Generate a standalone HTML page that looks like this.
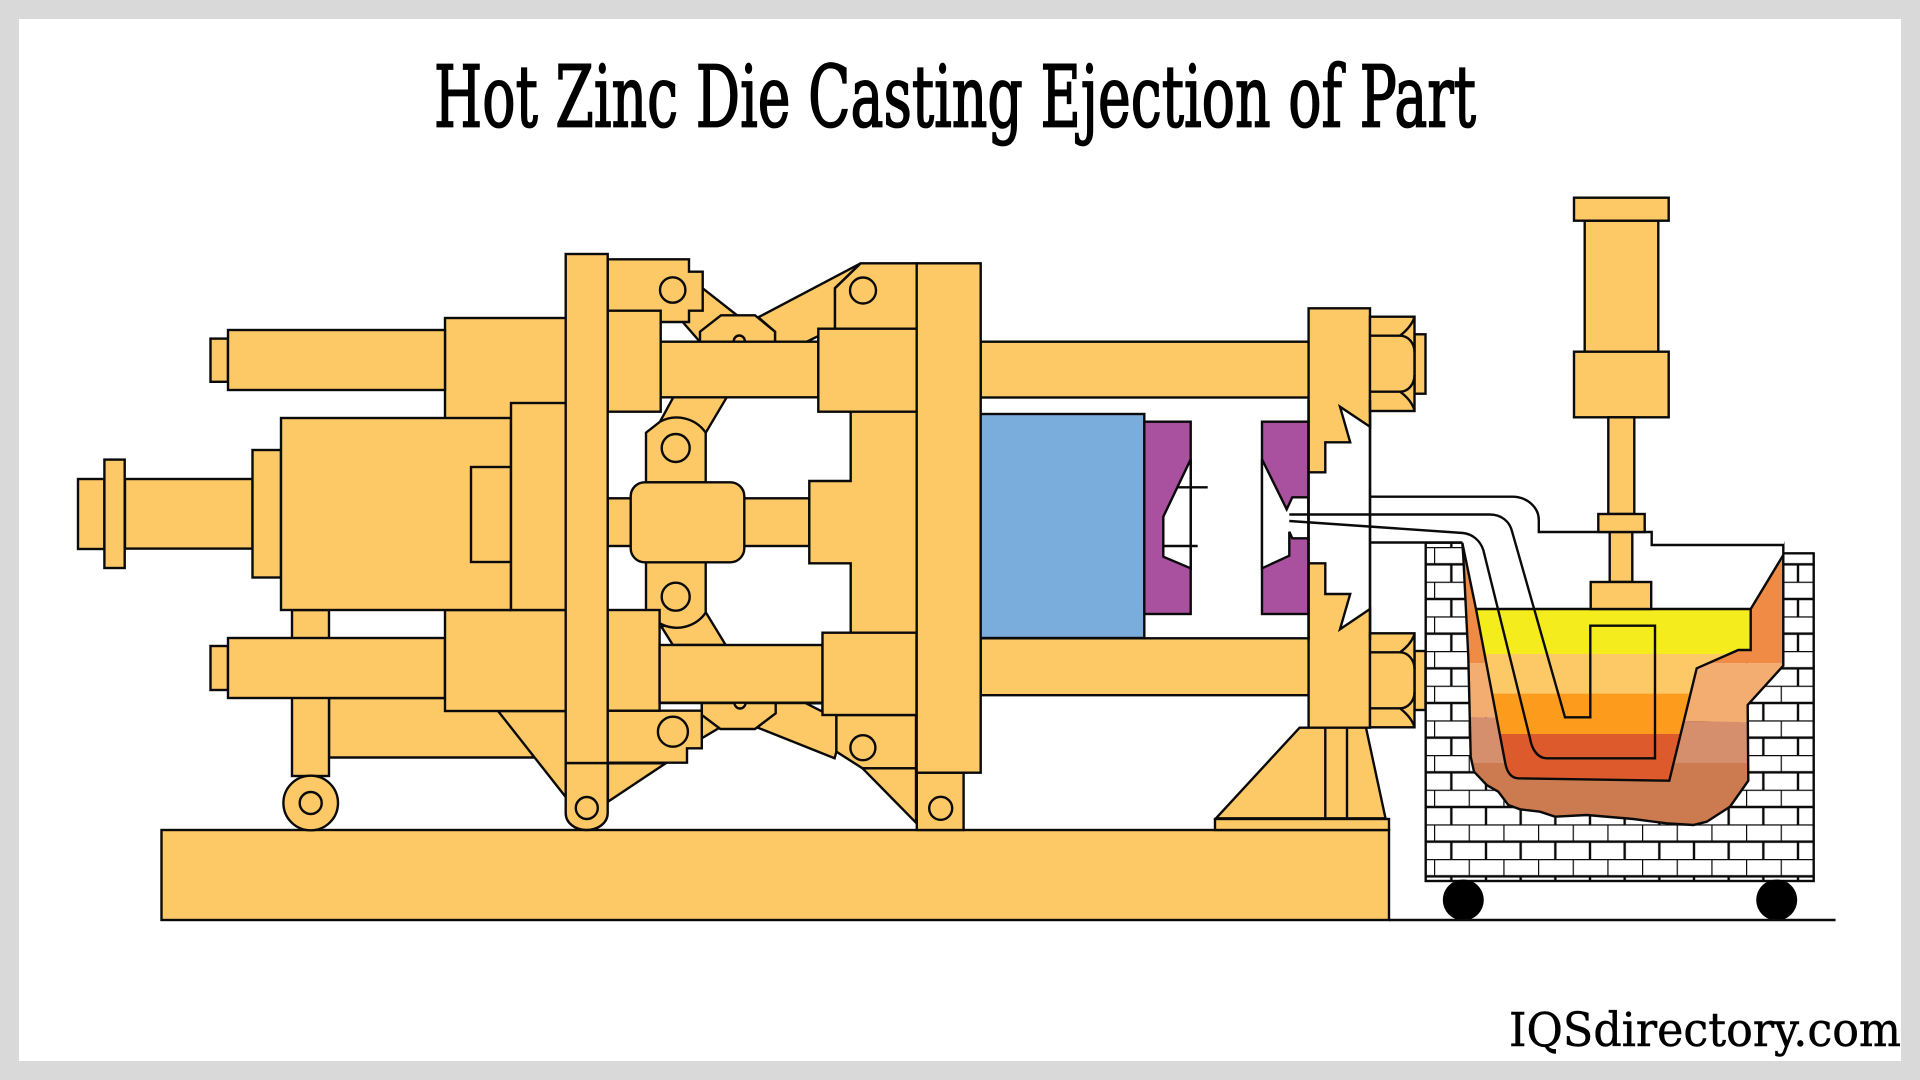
<!DOCTYPE html>
<html lang="en">
<head>
<meta charset="utf-8">
<title>Hot Zinc Die Casting Ejection of Part</title>
<style>
html,body{margin:0;padding:0;background:#d9d9d9;}
svg{display:block;}
</style>
</head>
<body>
<svg xmlns="http://www.w3.org/2000/svg" width="1920" height="1080" viewBox="0 0 1920 1080">
<defs>
<pattern id="br" patternUnits="userSpaceOnUse" x="1434" y="859" width="34.667" height="34.667">
<rect width="34.667" height="34.667" fill="#fff"/>
<path d="M0 0H34.667M0 17.333H34.667M0 0V17.333M17.333 17.333V34.667" stroke="#0a0a0a" stroke-width="2.4" fill="none"/>
</pattern>
<clipPath id="oc"><polygon points="1462.3,542.7 1463.3,556.7 1468.3,656.7 1470.7,756.7 1474,771.7 1486.7,785 1498.3,791.7 1508.3,805 1520,809.3 1540,811.7 1555,816.7 1586.7,815 1633.3,819 1666.7,823.3 1693.3,825 1706.7,821.7 1730,806.7 1748.3,780.7 1747.7,705 1783.3,665.7 1783.3,555"/></clipPath>
<clipPath id="cc"><polygon points="1476,609 1505.3,763.3 1510,774 1518.3,778.3 1669.3,780.7 1696.7,668.3 1738.3,650 1750.7,650 1750.7,609"/></clipPath>
</defs>
<rect x="0" y="0" width="1920" height="1080" fill="#d9d9d9"/>
<rect x="19" y="19" width="1882" height="1042" fill="#fff"/>
<text x="434" y="126.7" font-family="'DejaVu Serif','Liberation Serif',serif" font-size="85" fill="#000" stroke="#000" stroke-width="1.8" textLength="1042" lengthAdjust="spacingAndGlyphs">Hot Zinc Die Casting Ejection of Part</text>
<text x="1509" y="1046" font-family="'DejaVu Serif','Liberation Serif',serif" font-size="47" fill="#000" stroke="#000" stroke-width="0.5" textLength="392" lengthAdjust="spacingAndGlyphs">IQSdirectory.com</text>

<g fill="#fdc966" stroke="#0a0a0a" stroke-width="2.4" stroke-linejoin="miter">
<!-- base -->
<rect x="161.5" y="830" width="1227.5" height="90"/>
<!-- lower rail and carriage -->
<polygon points="329,698 500,698 534,757.5 329,757.5"/>
<polygon points="498,711 565.7,797 565.7,711"/>
<rect x="292" y="610" width="37" height="166"/>
<circle cx="310.7" cy="803" r="27.3"/>
<circle cx="310.7" cy="803" r="11"/>
<!-- left cylinder group -->
<rect x="445" y="318" width="120.7" height="110"/>
<rect x="210.5" y="338.6" width="17.5" height="43.2"/>
<rect x="228" y="330" width="217" height="60"/>
<rect x="210.5" y="646" width="17.5" height="44"/>
<rect x="228" y="638" width="217" height="60"/>
<rect x="445" y="610" width="120.7" height="101"/>
<rect x="78" y="479" width="26.4" height="70"/>
<rect x="125" y="479" width="127.5" height="69.6"/>
<rect x="104.4" y="459.6" width="20.3" height="108.4"/>
<rect x="252.5" y="450" width="28.5" height="127.5"/>
<rect x="281" y="418" width="230" height="192"/>
<rect x="471" y="467" width="40" height="95"/>
<rect x="511" y="403" width="54.7" height="207"/>

<!-- toggle arms upper -->
<polygon points="702.7,288.3 736.7,315 725,341 699.3,341 682.7,322"/>
<polygon points="860.7,263.3 758.3,317.3 775,331.7 775,342 818,342 835,328.7 835,288"/>
<polygon points="806.7,341.7 818.3,336 818.3,341.7" fill="#fff"/>
<polygon points="700,341.7 700,331.7 721,315.3 755,315.3 775,331.7 775,341.7"/>
<circle cx="739.3" cy="341" r="5.5"/>
<!-- toggle arms lower -->
<polygon points="659,703 701.8,703 701.8,738.3 718.6,728.3 720,703"/>
<polygon points="757.9,727.7 834.6,758.3 836.4,751.7 836.4,703 775.7,703"/>
<polygon points="806,703.3 822.5,711.7 822.5,703.3" fill="#fff"/>
<polygon points="701.8,703 775.7,703 775.7,713.3 755,729 720.4,729 701.8,715"/>
<circle cx="740" cy="703" r="5.5"/>
<!-- vertical links -->
<polygon points="673.3,397.3 726.7,397.3 705.7,432.7 660,421.7"/>
<path d="M646,482.3V432.7L660,421.7A35.3,35.3 0 0 1 705.7,432.7V482.3Z"/>
<circle cx="675.7" cy="448" r="14"/>
<polygon points="661.4,626.7 672.9,645 725.7,645 705.4,611.7"/>
<path d="M646,562.3V612L661,624A35.3,35.3 0 0 0 705.7,612.7V562.3Z"/>
<circle cx="675.7" cy="596.7" r="14"/>
<!-- center crosshead -->
<rect x="607.7" y="498.3" width="23" height="47.7"/>
<rect x="744.3" y="498.3" width="65" height="47.7"/>
<rect x="630.7" y="482.3" width="113.6" height="80" rx="14" ry="14"/>
<!-- middle tie parts -->
<path d="M850.7,400V481H809.3V563.3H850.7V640H916.7V400Z"/>
<!-- upper bracket -->
<polygon points="607.7,259.3 689,259.3 689,271.7 702.7,271.7 702.7,310.7 689,310.7 689,322 607.7,322"/>
<circle cx="672.7" cy="290" r="12.7"/>
<rect x="607.7" y="310.7" width="53" height="101"/>
<rect x="660.7" y="341.7" width="157.6" height="55.6"/>
<polygon points="860.7,263.3 916.7,263.3 916.7,330 835,330 835,288.3"/>
<circle cx="863" cy="290.5" r="13"/>
<rect x="818.3" y="328.7" width="98.4" height="83"/>
<!-- lower bracket / foot -->
<polygon points="607.9,801.7 665.7,763.3 607.9,763.3"/>
<polygon points="607.5,710.7 701.8,710.7 701.8,748.3 687,748.3 687,762.7 607.5,762.7"/>
<ellipse cx="672.9" cy="731.7" rx="15" ry="15"/>
<rect x="607.5" y="610" width="52.1" height="100.7"/>
<rect x="659.6" y="645" width="162.9" height="57.7"/>
<polygon points="836.4,715 916,715 916,768.3 862.5,768.3 836.4,751.7"/>
<polygon points="862.5,768.3 916,822.7 916,768.3"/>
<ellipse cx="862.9" cy="747.7" rx="12.5" ry="12.5"/>
<rect x="822.5" y="632.7" width="94" height="82.3"/>
<rect x="916.8" y="772.7" width="46.8" height="57.3"/>
<circle cx="940.7" cy="808.3" r="11.5"/>
<!-- tall moving plate with pin -->
<path d="M565.7,763V813C565.7,823 575,830 586.6,830C598,830 607.7,823 607.7,813V763Z"/>
<circle cx="586.8" cy="808" r="11"/>
<rect x="565.7" y="254" width="42" height="509"/>
<!-- big fixed plate -->
<rect x="980.7" y="341.7" width="328" height="55.8"/>
<rect x="980.7" y="638.3" width="328" height="56.9"/>
<rect x="916.7" y="263.3" width="64" height="509.4"/>
</g>

<!-- die halves -->
<g stroke="#0a0a0a" stroke-width="2.4">
<rect x="980.7" y="414" width="163.6" height="224" fill="#7aacdc"/>
<rect x="1144.3" y="421.7" width="46.4" height="192.3" fill="#a9519e"/>
<polygon points="1190.7,459.3 1163.3,516.7 1163.3,556.7 1190.7,568.3" fill="#fff"/>
<line x1="1176.7" y1="487.3" x2="1207.7" y2="487.3"/>
<line x1="1163.3" y1="546" x2="1197.7" y2="546"/>
<rect x="1262" y="421.7" width="46.4" height="192.3" fill="#a9519e"/>
<polygon points="1262,459.3 1286.7,509.3 1292.3,497.3 1308.3,497.3 1308.3,538.3 1292.3,538.3 1289.3,531.7 1289.3,555.7 1262,568.3" fill="#fff"/>
</g>

<!-- right plate and nuts -->
<g fill="#fdc966" stroke="#0a0a0a" stroke-width="2.4">
<rect x="1308.6" y="400" width="61.4" height="240" fill="#fff"/>
<polygon points="1308.6,308.3 1370,308.3 1370,426.7 1340,406.7 1350.2,442.3 1325.3,442.3 1325.3,472.3 1308.6,472.3"/>
<polygon points="1308.6,563.3 1325.3,563.3 1325.3,594 1350.2,594 1340,629.3 1370,609 1370,727.7 1308.6,727.7"/>
<rect x="1414.5" y="334.3" width="11" height="59.4"/>
<rect x="1370" y="316.7" width="44.5" height="94.3"/>
<path d="M1370,335.7H1400C1408,335.7 1414.5,343 1414.5,352M1370,391.7H1400C1408,391.7 1414.5,384.5 1414.5,375M1400,335.7C1406,331 1412,325 1414.5,317M1400,391.7C1406,396 1412,402 1414.5,410.5" fill="none"/>
<rect x="1414.5" y="651" width="11" height="59"/>
<rect x="1370" y="633.3" width="44.5" height="94"/>
<path d="M1370,652.3H1400C1408,652.3 1414.5,660 1414.5,669M1370,708.3H1400C1408,708.3 1414.5,701 1414.5,692M1400,652.3C1406,648 1412,642 1414.5,634M1400,708.3C1406,713 1412,719 1414.5,727" fill="none"/>
<polygon points="1299.6,727.7 1216,818.3 1385.5,818.3 1366,727.7"/>
<line x1="1325.3" y1="727.7" x2="1325.3" y2="818.3"/>
<line x1="1347" y1="727.7" x2="1347" y2="818.3"/>
<rect x="1215" y="819" width="174" height="11"/>
</g>

<!-- bricks -->
<rect x="1425.7" y="542.7" width="388" height="338.3" fill="url(#br)" stroke="#0a0a0a" stroke-width="2.4"/>
<rect x="1784.6" y="530" width="31" height="22.3" fill="#fff"/>
<path d="M1783.7,553.3H1813.7" stroke="#0a0a0a" stroke-width="2.4" fill="none"/>

<!-- ladle -->
<g clip-path="url(#oc)">
<rect x="1455" y="535" width="335" height="128.3" fill="#ef8b45"/>
<polygon points="1455,663.3 1790,663.3 1790,723 1455,716.7" fill="#f3ad70"/>
<polygon points="1455,716.7 1790,723 1790,763 1455,763" fill="#d58f6c"/>
<rect x="1455" y="763" width="335" height="70" fill="#cc7a50"/>
</g>
<polygon points="1462.3,538 1462.3,542.7 1476,609 1750.7,609 1783.3,555 1784.6,538" fill="#fff"/>
<polyline points="1462.3,542.7 1463.3,556.7 1468.3,656.7 1470.7,756.7 1474,771.7 1486.7,785 1498.3,791.7 1508.3,805 1520,809.3 1540,811.7 1555,816.7 1586.7,815 1633.3,819 1666.7,823.3 1693.3,825 1706.7,821.7 1730,806.7 1748.3,780.7 1747.7,705 1783.3,665.7 1783.3,555" fill="none" stroke="#0a0a0a" stroke-width="2.4"/>
<g clip-path="url(#cc)">
<rect x="1470" y="609" width="290" height="45" fill="#f4ec1c"/>
<rect x="1470" y="654" width="290" height="39.7" fill="#fdc966"/>
<rect x="1470" y="693.7" width="290" height="40.3" fill="#fd9b1d"/>
<rect x="1470" y="734" width="290" height="50" fill="#dc5a2c"/>
</g>
<path d="M1462.3,542.7L1476,609L1505.3,763.3C1507,772 1511,778 1518.3,778.3L1669.3,780.7L1696.7,668.3L1738.3,650H1750.7V609L1783.3,555M1476,609H1750.7" fill="none" stroke="#0a0a0a" stroke-width="2.4"/>

<!-- gooseneck lines -->
<g fill="none" stroke="#0a0a0a" stroke-width="2.4">
<path d="M1370,496.7H1512C1528,496.7 1538.8,508 1538.8,520V532H1651.7V545H1783.3V555"/>
<path d="M1370,542.5H1462.3"/>
<path d="M1289.3,514.5H1489.8C1502,514.5 1510,522 1512.2,532L1565,717.3H1590.3V625.7H1655V758.3H1546.7C1538,758.3 1532,750 1530,738.3L1483.3,550C1480,540 1472,534 1463,533L1289.3,521"/>
<line x1="1308.6" y1="400" x2="1308.6" y2="640"/>
<line x1="1370" y1="400" x2="1370" y2="640"/>
</g>

<!-- vertical cylinder -->
<g fill="#fdc966" stroke="#0a0a0a" stroke-width="2.4">
<rect x="1584.7" y="220.7" width="73.6" height="131"/>
<rect x="1574" y="197.7" width="94.7" height="23"/>
<rect x="1574" y="351.7" width="94.7" height="65.6"/>
<rect x="1608.3" y="417.3" width="26" height="96.7"/>
<rect x="1609.7" y="532" width="22.6" height="50"/>
<rect x="1598.3" y="514" width="46.4" height="18"/>
<rect x="1590.7" y="582" width="60.5" height="27"/>
</g>

<!-- cart wheels & ground -->
<circle cx="1463.3" cy="900" r="20.5" fill="#000"/>
<circle cx="1776.7" cy="900" r="20.5" fill="#000"/>
<line x1="1389" y1="920" x2="1835.5" y2="920" stroke="#0a0a0a" stroke-width="2.4"/>
</svg>
</body>
</html>
